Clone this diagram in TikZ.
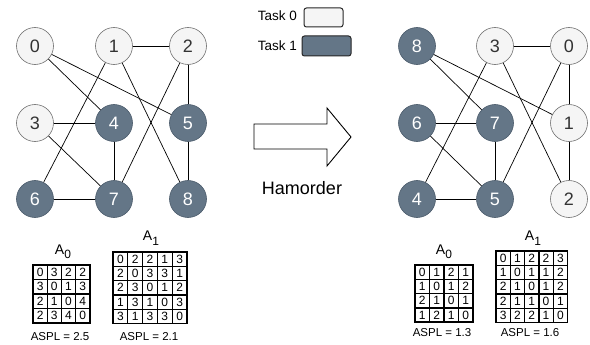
\documentclass[tikz,border=0pt]{standalone}
\usepackage{fontspec}
\setmainfont{Liberation Sans}
\definecolor{lightfill}{HTML}{F5F5F5}
\definecolor{lightedge}{HTML}{707070}
\definecolor{lighttext}{HTML}{333333}
\definecolor{darkfill}{HTML}{647687}
\definecolor{darkedge}{HTML}{4A5A6A}
% distance matrix: name, x0, y0, cell width, cell height, rows, size
\newcommand\distmat[7]{%
  \foreach \r [count=\i] in {#6} {
    \foreach \v [count=\j] in \r {
      \node[cell, minimum width=#4pt, minimum height=#5pt]
        (#1-\i-\j) at ({#2+(\j-0.5)*#4},{#3+(\i-0.5)*#5}) {\v};
    }
  }
  \draw[line width=1.9pt] (#2,#3) rectangle ({#2+#7*#4},{#3+#7*#5});
}
% matrix caption with a large, lowered index
\newcommand\matlabel[1]{A\raisebox{-0.32em}{\fontsize{12}{12}\selectfont #1}}
\begin{document}
\begin{tikzpicture}[x=1pt,y=-1pt,
  vtx/.style={circle, minimum size=37pt, inner sep=0pt, line width=0.6pt,
    font=\fontsize{18}{18}\selectfont},
  taskA/.style={vtx, draw=lightedge, fill=lightfill, text=lighttext},
  taskB/.style={vtx, draw=darkedge, fill=darkfill, text=white},
  edge/.style={line width=0.7pt, black},
  cell/.style={draw, line width=1.25pt, inner sep=0pt,
    font=\fontsize{12}{12}\selectfont},
  lbl/.style={inner sep=0pt, font=\fontsize{14}{14}\selectfont},
  aspl/.style={inner sep=0pt, font=\fontsize{11.5}{11.5}\selectfont},
  legendbox/.style={draw=black!85, line width=1pt, rounded corners=2.5pt}
]
\useasboundingbox (0,0) rectangle (590,345);

% ---------- graph before reordering ----------
\node[taskA] (L0) at (35,46) {0};
\node[taskA] (L1) at (114,46) {1};
\node[taskA] (L2) at (188,46) {2};
\node[taskA] (L3) at (35,123) {3};
\node[taskB] (L4) at (114,123) {4};
\node[taskB] (L5) at (188,123) {5};
\node[taskB] (L6) at (35,199) {6};
\node[taskB] (L7) at (114,199) {7};
\node[taskB] (L8) at (188,199) {8};
\draw[edge] (L0) -- (L4);
\draw[edge] (L0) -- (L5);
\draw[edge] (L1) -- (L2);
\draw[edge] (L1) -- (L6);
\draw[edge] (L1) -- (L8);
\draw[edge] (L2) -- (L5);
\draw[edge] (L2) -- (L7);
\draw[edge] (L3) -- (L4);
\draw[edge] (L3) -- (L7);
\draw[edge] (L4) -- (L7);
\draw[edge] (L5) -- (L8);
\draw[edge] (L6) -- (L7);

% ---------- graph after reordering ----------
\node[taskB] (R8) at (417,46) {8};
\node[taskA] (R3) at (495,46) {3};
\node[taskA] (R0) at (569,46) {0};
\node[taskB] (R6) at (417,123) {6};
\node[taskB] (R7) at (495,123) {7};
\node[taskA] (R1) at (569,123) {1};
\node[taskB] (R4) at (417,199) {4};
\node[taskB] (R5) at (495,199) {5};
\node[taskA] (R2) at (569,199) {2};
\draw[edge] (R8) -- (R1);
\draw[edge] (R8) -- (R7);
\draw[edge] (R3) -- (R0);
\draw[edge] (R3) -- (R4);
\draw[edge] (R3) -- (R2);
\draw[edge] (R0) -- (R1);
\draw[edge] (R0) -- (R5);
\draw[edge] (R6) -- (R7);
\draw[edge] (R6) -- (R5);
\draw[edge] (R7) -- (R5);
\draw[edge] (R4) -- (R5);
\draw[edge] (R1) -- (R2);

% ---------- legend ----------
\node[anchor=east, inner sep=0pt, font=\fontsize{13.5}{13.5}\selectfont] (t0) at (297,16) {Task 0};
\node[anchor=east, inner sep=0pt, font=\fontsize{13.5}{13.5}\selectfont] (t1) at (297,46) {Task 1};
\draw[legendbox, fill=lightfill] (304,8) rectangle (343,27);
\draw[legendbox, fill=darkfill] (302,36) rectangle (351,56);

% ---------- reordering arrow ----------
\draw[line width=0.9pt, fill=white, line join=miter]
  (254,124) -- (327,124) -- (327,108) -- (351,137) -- (327,166) -- (327,149) -- (254,149) -- cycle;
\node[inner sep=0pt, font=\fontsize{18}{18}\selectfont] (ham) at (302,188) {Hamorder};

% ---------- distance matrices ----------
\distmat{LA}{33}{265}{14.2}{14.5}{{0,3,2,2},{3,0,1,3},{2,1,0,4},{2,3,4,0}}{4}
\distmat{LB}{113}{252}{14.8}{14.3}{{0,2,2,1,3},{2,0,3,3,1},{2,3,0,1,2},{1,3,1,0,3},{3,1,3,3,0}}{5}
\distmat{RA}{415}{265}{14.5}{14.3}{{0,1,2,1},{1,0,1,2},{2,1,0,1},{1,2,1,0}}{4}
\distmat{RB}{496}{251}{14.3}{14.3}{{0,1,2,2,3},{1,0,1,1,2},{2,1,0,1,2},{2,1,1,0,1},{3,2,2,1,0}}{5}

\node[lbl] (la) at (63,252) {\matlabel{0}};
\node[lbl] (lb) at (151,238) {\matlabel{1}};
\node[lbl] (ra) at (444,252) {\matlabel{0}};
\node[lbl] (rb) at (533,238) {\matlabel{1}};

\node[aspl] (las) at (60,337) {ASPL = 2.5};
\node[aspl] (lbs) at (149,337) {ASPL = 2.1};
\node[aspl] (ras) at (442,333) {ASPL = 1.3};
\node[aspl] (rbs) at (530,333) {ASPL = 1.6};
\end{tikzpicture}
\end{document}
